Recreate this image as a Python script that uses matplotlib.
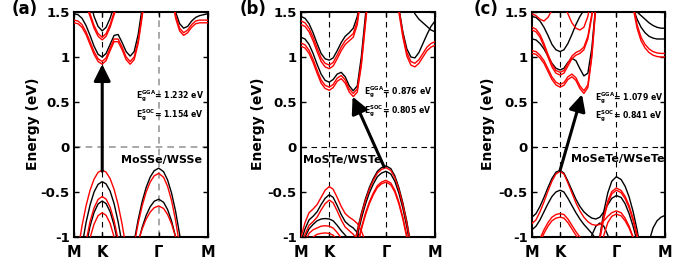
import matplotlib
matplotlib.use("Agg")
import matplotlib.pyplot as plt

plt.rcParams['font.family'] = ['DejaVu Sans']
plt.rcParams['font.weight'] = 'bold'

T = 2.5    # above the frame
B = -2.0   # below the frame

# ---------------- data ----------------
k_path = [0.000, 0.030, 0.060, 0.090, 0.120, 0.150, 0.180, 0.211, 0.240, 0.270,
          0.300, 0.330, 0.360, 0.390, 0.420, 0.450, 0.480, 0.510, 0.540, 0.570,
          0.600, 0.634, 0.670, 0.700, 0.730, 0.760, 0.790, 0.820, 0.850, 0.880,
          0.910, 0.940, 0.970, 1.000]
k_labels = ['M', 'K', 'Γ', 'M']
k_label_pos = [0.0, 0.211, 0.634, 1.0]
y_ticks = [-1, -0.5, 0, 0.5, 1, 1.5]
y_ticklabels = ['-1', '-0.5', '0', '0.5', '1', '1.5']
panel_letters = ['(a)', '(b)', '(c)']
materials = ['MoSSe/WSSe', 'MoSTe/WSTe', 'MoSeTe/WSeTe']
gap_gga = ['1.232', '0.876', '1.079']
gap_soc = ['1.154', '0.805', '0.841']
arrow_a = [0.211, -0.27, 0.211, 0.92]
arrow_b = [0.62, -0.22, 0.385, 0.56]
arrow_c = [0.211, -0.26, 0.376, 0.585]

# ---- panel (a): MoSSe/WSSe  (black = GGA, red = SOC) ----
a_gga = [
    [1.48, 1.47, 1.43, 1.35, 1.24, 1.12, 1.03, 1.00, 1.04, 1.14, 1.24, 1.25, 1.16, 1.06, 1.01, 1.06, 1.25, 1.55, 1.9, T, T, T, T, T, T, T, T, T, T, T, T, T, T, T],
    [T, T, T, 2.0, 1.62, 1.45, 1.34, 1.29, 1.33, 1.43, 1.57, 1.75, T, T, T, T, T, T, T, T, T, T, T, T, T, T, T, T, T, T, T, T, T, T],
    [T, T, T, T, T, T, T, T, T, T, T, T, T, T, T, T, T, T, T, T, T, T, T, T, 1.75, 1.50, 1.37, 1.32, 1.34, 1.40, 1.44, 1.46, 1.47, 1.48],
    [-1.78, -1.41, -1.10, -0.84, -0.645, -0.50, -0.415, -0.385, -0.41, -0.49, -0.63, -0.83, -1.08, -1.39, B, B, B, B, B, B, B, B, B, B, B, B, B, B, B, B, B, B, B, B],
    [B, -1.71, -1.38, -1.10, -0.88, -0.727, -0.633, -0.60, -0.629, -0.718, -0.869, -1.08, -1.35, B, B, B, B, B, B, B, B, B, B, B, B, B, B, B, B, B, B, B, B, B],
    [B, B, B, B, B, B, B, B, B, B, B, B, B, B, -1.34, -1.05, -0.807, -0.606, -0.448, -0.334, -0.263, -0.235, -0.274, -0.367, -0.514, -0.716, -0.972, -1.28, -1.63, B, B, B, B, B],
    [B, B, B, B, B, B, B, B, B, B, B, B, B, B, -1.51, -1.27, -1.06, -0.892, -0.759, -0.663, -0.603, -0.58, -0.614, -0.695, -0.823, -1.0, -1.22, -1.5, B, B, B, B, B, B],
]
a_soc = [
    [1.38, 1.37, 1.33, 1.25, 1.14, 1.03, 0.95, 0.92, 0.96, 1.07, 1.17, 1.17, 1.08, 0.97, 0.92, 0.97, 1.15, 1.45, 1.8, T, T, T, T, T, T, T, T, T, T, T, T, T, T, T],
    [1.41, 1.40, 1.36, 1.28, 1.17, 1.06, 0.98, 0.95, 0.99, 1.10, 1.20, 1.20, 1.11, 1.00, 0.95, 1.00, 1.18, 1.48, 1.83, T, T, T, T, T, T, T, T, T, T, T, T, T, T, T],
    [T, T, 2.0, 1.58, 1.45, 1.32, 1.23, 1.19, 1.23, 1.33, 1.47, 1.62, 1.9, T, T, T, T, T, T, T, T, T, T, T, T, T, T, T, T, T, T, T, T, T],
    [T, T, 2.0, 1.61, 1.48, 1.35, 1.26, 1.22, 1.26, 1.36, 1.50, 1.65, 1.95, T, T, T, T, T, T, T, T, T, T, T, T, T, T, T, T, T, T, T, T, T],
    [T, T, T, T, T, T, T, T, T, T, T, T, T, T, T, T, T, T, T, T, T, T, T, T, 1.70, 1.43, 1.29, 1.24, 1.27, 1.33, 1.37, 1.38, 1.38, 1.38],
    [T, T, T, T, T, T, T, T, T, T, T, T, T, T, T, T, T, T, T, T, T, T, T, T, 1.73, 1.46, 1.32, 1.27, 1.30, 1.36, 1.40, 1.41, 1.41, 1.41],
    [-1.47, -1.146, -0.876, -0.654, -0.481, -0.357, -0.282, -0.256, -0.279, -0.351, -0.471, -0.641, -0.859, -1.127, -1.4, B, B, B, B, B, B, B, B, B, B, B, B, B, B, B, B, B, B, B],
    [B, -1.66, -1.33, -1.05, -0.83, -0.677, -0.583, -0.55, -0.579, -0.668, -0.819, -1.03, -1.30, B, B, B, B, B, B, B, B, B, B, B, B, B, B, B, B, B, B, B, B, B],
    [B, B, -1.51, -1.23, -1.01, -0.857, -0.763, -0.73, -0.759, -0.848, -1.0, -1.21, B, B, B, B, B, B, B, B, B, B, B, B, B, B, B, B, B, B, B, B, B, B],
    [B, B, B, B, B, B, B, B, B, B, B, B, B, B, -1.37, -1.085, -0.848, -0.653, -0.50, -0.389, -0.32, -0.293, -0.336, -0.437, -0.597, -0.817, -1.096, -1.43, B, B, B, B, B, B],
    [B, B, B, B, B, B, B, B, B, B, B, B, B, B, -1.41, -1.22, -1.05, -0.91, -0.80, -0.723, -0.674, -0.655, -0.683, -0.75, -0.855, -1.0, -1.18, -1.4, B, B, B, B, B, B],
]

# ---- panel (b): MoSTe/WSTe ----
b_gga = [
    [1.22, 1.20, 1.14, 1.04, 0.92, 0.81, 0.74, 0.72, 0.75, 0.81, 0.83, 0.78, 0.68, 0.625, 0.68, 1.00, 1.45, 1.9, T, T, T, T, T, T, T, T, T, T, T, T, T, T, T, T],
    [1.45, 1.43, 1.37, 1.27, 1.15, 1.04, 0.98, 0.965, 0.99, 1.07, 1.16, 1.23, 1.27, 1.32, 1.45, 1.75, 2.1, T, T, T, T, T, T, T, T, T, T, T, T, T, T, T, T, T],
    [T, T, T, T, T, T, T, T, T, T, T, T, T, T, T, T, T, T, T, T, T, T, T, 1.9, 1.55, 1.28, 1.09, 1.00, 0.99, 1.05, 1.15, 1.25, 1.34, 1.40],
    [T, T, T, T, T, T, T, T, T, T, T, T, T, T, T, T, T, T, T, T, T, T, T, T, T, 2.0, 1.75, 1.58, 1.48, 1.42, 1.38, 1.34, 1.30, 1.28],
    [B, B, B, B, B, B, B, B, B, B, B, B, -1.39, -1.14, -0.93, -0.74, -0.58, -0.45, -0.35, -0.27, -0.23, -0.21, -0.24, -0.32, -0.45, -0.62, -0.83, -1.09, -1.39, -1.7, B, B, B, B],
    [B, B, B, B, B, B, B, B, B, B, B, B, -1.45, -1.20, -0.99, -0.80, -0.64, -0.51, -0.41, -0.33, -0.29, -0.27, -0.30, -0.38, -0.51, -0.68, -0.89, -1.15, -1.45, -1.76, B, B, B, B],
    [-1.05, -0.91, -0.81, -0.77, -0.72, -0.64, -0.57, -0.53, -0.56, -0.65, -0.75, -0.83, -0.87, -0.90, -0.95, -1.03, -1.15, -1.35, B, B, B, B, B, B, B, B, B, B, B, B, B, B, B, B],
    [-1.15, -1.0, -0.91, -0.86, -0.82, -0.80, -0.795, -0.80, -0.82, -0.87, -0.93, -0.98, -1.03, -1.1, -1.3, B, B, B, B, B, B, B, B, B, B, B, B, B, B, B, B, B, B, B],
]
b_soc = [
    [1.12, 1.10, 1.04, 0.94, 0.82, 0.71, 0.65, 0.63, 0.66, 0.73, 0.76, 0.71, 0.61, 0.56, 0.61, 0.90, 1.35, 1.8, T, T, T, T, T, T, T, T, T, T, T, T, T, T, T, T],
    [1.155, 1.135, 1.075, 0.975, 0.855, 0.745, 0.685, 0.665, 0.695, 0.765, 0.795, 0.745, 0.645, 0.595, 0.645, 0.935, 1.385, 1.835, T, T, T, T, T, T, T, T, T, T, T, T, T, T, T, T],
    [1.36, 1.34, 1.28, 1.18, 1.06, 0.95, 0.89, 0.87, 0.90, 0.98, 1.07, 1.14, 1.18, 1.22, 1.36, 1.68, 2.05, T, T, T, T, T, T, T, T, T, T, T, T, T, T, T, T, T],
    [1.40, 1.38, 1.32, 1.22, 1.10, 0.99, 0.93, 0.91, 0.94, 1.02, 1.11, 1.18, 1.22, 1.26, 1.40, 1.72, 2.1, T, T, T, T, T, T, T, T, T, T, T, T, T, T, T, T, T],
    [T, T, T, T, T, T, T, T, T, T, T, T, T, T, T, T, T, T, T, T, T, T, T, 1.85, 1.50, 1.22, 1.01, 0.91, 0.89, 0.93, 1.00, 1.07, 1.11, 1.13],
    [T, T, T, T, T, T, T, T, T, T, T, T, T, T, T, T, T, T, T, T, T, T, T, 1.89, 1.54, 1.26, 1.05, 0.95, 0.93, 0.97, 1.04, 1.11, 1.15, 1.17],
    [B, B, B, B, B, B, B, B, B, B, B, B, -1.41, -1.16, -0.95, -0.76, -0.60, -0.47, -0.37, -0.29, -0.25, -0.23, -0.26, -0.34, -0.47, -0.64, -0.85, -1.11, -1.41, -1.72, B, B, B, B],
    [B, B, B, B, B, B, B, B, B, B, B, B, -1.55, -1.30, -1.09, -0.90, -0.74, -0.61, -0.51, -0.43, -0.39, -0.37, -0.40, -0.48, -0.61, -0.78, -0.99, -1.25, -1.55, -1.86, B, B, B, B],
    [B, B, B, B, B, B, B, B, B, B, B, B, -1.57, -1.32, -1.11, -0.92, -0.76, -0.63, -0.53, -0.45, -0.41, -0.39, -0.42, -0.50, -0.63, -0.80, -1.01, -1.27, -1.57, -1.88, B, B, B, B],
    [-1.0, -0.84, -0.73, -0.69, -0.64, -0.56, -0.48, -0.44, -0.47, -0.56, -0.66, -0.74, -0.78, -0.81, -0.85, -0.93, -1.05, -1.2, B, B, B, B, B, B, B, B, B, B, B, B, B, B, B, B],
    [-1.12, -0.97, -0.87, -0.83, -0.78, -0.70, -0.63, -0.59, -0.62, -0.71, -0.81, -0.89, -0.93, -0.97, -1.02, -1.1, -1.3, B, B, B, B, B, B, B, B, B, B, B, B, B, B, B, B, B],
    [-1.2, -1.05, -0.96, -0.92, -0.90, -0.88, -0.875, -0.88, -0.90, -0.95, -1.01, -1.06, -1.12, -1.3, B, B, B, B, B, B, B, B, B, B, B, B, B, B, B, B, B, B, B, B],
    [B, -1.2, -1.05, -1.0, -0.97, -0.96, -0.955, -0.96, -0.98, -1.03, -1.1, B, B, B, B, B, B, B, B, B, B, B, B, B, B, B, B, B, B, B, B, B, B, B],
]

# ---- panel (c): MoSeTe/WSeTe ----
c_gga = [
    [1.20, 1.19, 1.15, 1.09, 1.01, 0.93, 0.875, 0.855, 0.875, 0.94, 0.985, 0.96, 0.87, 0.79, 0.82, 1.10, 1.60, 2.1, T, T, T, T, T, T, T, T, T, T, T, T, T, T, T, T],
    [1.45, 1.44, 1.40, 1.33, 1.24, 1.14, 1.08, 1.06, 1.08, 1.15, 1.25, 1.36, 1.45, 1.52, 1.65, 1.9, T, T, T, T, T, T, T, T, T, T, T, T, T, T, T, T, T, T],
    [T, T, T, T, T, T, T, T, T, T, T, T, T, T, T, T, T, T, T, T, T, T, T, 2.0, 1.75, 1.55, 1.42, 1.33, 1.27, 1.23, 1.21, 1.20, 1.20, 1.20],
    [T, T, T, T, T, T, T, T, T, T, T, T, T, T, T, T, T, T, T, T, T, T, T, T, 1.9, 1.62, 1.50, 1.46, 1.42, 1.38, 1.35, 1.33, 1.32, 1.32],
    [-0.78, -0.74, -0.66, -0.56, -0.45, -0.35, -0.28, -0.26, -0.29, -0.38, -0.48, -0.58, -0.66, -0.72, -0.76, -0.79, -0.80, -0.78, -0.72, -0.64, -0.57, -0.54, -0.56, -0.63, -0.74, -0.88, -1.05, -1.25, B, B, B, B, B, B],
    [-0.92, -0.88, -0.81, -0.72, -0.63, -0.55, -0.50, -0.48, -0.50, -0.57, -0.65, -0.73, -0.80, -0.86, -0.91, -0.96, -1.02, -1.1, B, B, B, B, B, B, B, B, B, B, B, B, B, B, B, B],
    [B, B, B, B, B, B, B, B, B, B, B, B, B, B, B, -1.8, -1.36, -1.0, -0.715, -0.509, -0.38, -0.33, -0.361, -0.436, -0.554, -0.716, -0.921, -1.17, -1.46, B, B, B, B, B],
    [B, B, B, B, B, B, B, B, B, B, B, B, B, -1.4, -1.15, -0.98, -0.88, -0.845, -0.88, -0.98, -1.15, -1.4, B, B, B, B, B, B, B, B, B, B, B, B],
    [B, B, B, B, B, B, B, B, B, B, B, B, B, B, B, B, B, B, B, B, B, B, B, B, B, B, B, -1.6, -1.3, -1.05, -0.90, -0.82, -0.78, -0.76],
]
c_soc = [
    [1.04, 1.03, 0.99, 0.93, 0.84, 0.75, 0.69, 0.665, 0.685, 0.75, 0.78, 0.74, 0.65, 0.595, 0.66, 1.0, 1.55, 2.0, T, T, T, T, T, T, T, T, T, T, T, T, T, T, T, T],
    [1.07, 1.06, 1.02, 0.96, 0.87, 0.78, 0.72, 0.695, 0.715, 0.78, 0.81, 0.77, 0.68, 0.625, 0.69, 1.03, 1.58, 2.05, T, T, T, T, T, T, T, T, T, T, T, T, T, T, T, T],
    [1.30, 1.28, 1.22, 1.12, 1.00, 0.89, 0.82, 0.80, 0.82, 0.90, 0.98, 1.02, 1.04, 1.08, 1.20, 1.45, 1.8, T, T, T, T, T, T, T, T, T, T, T, T, T, T, T, T, T],
    [1.33, 1.31, 1.25, 1.15, 1.03, 0.92, 0.85, 0.83, 0.85, 0.93, 1.01, 1.05, 1.07, 1.11, 1.23, 1.48, 1.83, T, T, T, T, T, T, T, T, T, T, T, T, T, T, T, T, T],
    [1.48, 1.46, 1.42, 1.40, 1.44, 1.52, 1.60, 1.62, 1.58, 1.48, 1.38, 1.32, 1.30, 1.33, 1.45, 1.7, 2.0, T, T, T, T, T, T, T, T, T, T, T, T, T, T, T, T, T],
    [T, T, T, T, T, T, T, T, T, T, T, T, T, T, T, T, T, T, T, T, T, T, T, 2.2, 1.85, 1.55, 1.32, 1.18, 1.10, 1.05, 1.02, 1.005, 1.0, 1.0],
    [T, T, T, T, T, T, T, T, T, T, T, T, T, T, T, T, T, T, T, T, T, T, T, 2.25, 1.9, 1.59, 1.36, 1.22, 1.14, 1.09, 1.06, 1.045, 1.04, 1.04],
    [-0.85, -0.81, -0.72, -0.61, -0.49, -0.38, -0.30, -0.27, -0.30, -0.40, -0.51, -0.62, -0.71, -0.78, -0.83, -0.86, -0.87, -0.86, -0.82, -0.77, -0.73, -0.71, -0.73, -0.79, -0.88, -1.0, -1.15, -1.35, B, B, B, B, B, B],
    [-1.2, -1.12, -1.02, -0.92, -0.84, -0.78, -0.75, -0.74, -0.75, -0.80, -0.87, -0.94, -1.0, -1.07, -1.15, B, B, B, B, B, B, B, B, B, B, B, B, B, B, B, B, B, B, B],
    [-1.24, -1.16, -1.06, -0.96, -0.88, -0.82, -0.79, -0.78, -0.79, -0.84, -0.91, -0.98, -1.04, -1.11, -1.2, B, B, B, B, B, B, B, B, B, B, B, B, B, B, B, B, B, B, B],
    [B, B, B, B, B, B, B, B, B, B, B, B, B, B, B, -1.65, -1.29, -1.0, -0.768, -0.60, -0.496, -0.455, -0.483, -0.548, -0.651, -0.793, -0.973, -1.19, -1.45, B, B, B, B, B],
    [B, B, B, B, B, B, B, B, B, B, B, B, B, B, B, -1.68, -1.32, -1.03, -0.793, -0.625, -0.521, -0.48, -0.508, -0.573, -0.676, -0.818, -0.998, -1.21, -1.47, B, B, B, B, B],
    [B, B, B, B, B, B, B, B, B, B, B, B, B, B, B, B, B, -1.3, -0.98, -0.84, -0.77, -0.745, -0.765, -0.82, -0.90, -1.01, -1.15, -1.35, B, B, B, B, B, B],
]

# ---------------- figure ----------------
W, H = 674, 267
fig = plt.figure(figsize=(W / 100, H / 100), dpi=100)

def fx(px):
    return px / W

def fy(py):
    return 1 - py / H

ax_px = [(74, 133.7), (301, 134), (532, 133)]
top_px, bot_px = 12, 237
gga_sets = [a_gga, b_gga, c_gga]
soc_sets = [a_soc, b_soc, c_soc]
arrows = [arrow_a, arrow_b, arrow_c]
text_pos = [(0.465, 0.56, 0.35), (0.468, 0.61, 0.40), (0.475, 0.54, 0.34)]
mat_pos = [(0.957, -0.14, 'right'), (0.015, -0.14, 'left'), (0.29, -0.13, 'left')]
letter_px = [25, 253, 486]
ylabel_px = [33, 258, 488]

for i in range(3):
    left, width = ax_px[i]
    ax = fig.add_axes([fx(left), fy(bot_px), fx(width), (bot_px - top_px) / H])
    ax.set_xlim(0, 1)
    ax.set_ylim(-1, 1.5)
    if i == 0:
        gcol, glw, gdash = '0.6', 1.2, (4, 3)
    else:
        gcol, glw, gdash = 'k', 0.8, (5, 4)
    ax.axhline(0, color=gcol, lw=glw, dashes=gdash, zorder=1)
    ax.axvline(k_label_pos[2], color=gcol, lw=glw, dashes=gdash, zorder=1)
    ax.axvline(k_label_pos[1], color='k', lw=0.8, dashes=(5, 4), zorder=1)
    for band in gga_sets[i]:
        assert len(band) == len(k_path)
        ax.plot(k_path, band, color='black', lw=1.0, zorder=2)
    for band in soc_sets[i]:
        assert len(band) == len(k_path)
        ax.plot(k_path, band, color='red', lw=1.0, zorder=3)
    k0, e0, k1, e1 = arrows[i]
    ax.annotate('', xy=(k1, e1), xytext=(k0, e0),
                arrowprops=dict(arrowstyle='-|>,head_length=0.5,head_width=0.25',
                                color='black', lw=2.2, mutation_scale=20,
                                shrinkA=0, shrinkB=0), zorder=5)
    tk, t1, t2 = text_pos[i]
    ax.text(tk, t1, r'$\mathbf{E_g^{GGA}}$= ' + gap_gga[i] + ' eV', fontsize=5.6,
            fontweight='bold', ha='left', va='center', zorder=6)
    ax.text(tk, t2, r'$\mathbf{E_g^{SOC}}$= ' + gap_soc[i] + ' eV', fontsize=5.6,
            fontweight='bold', ha='left', va='center', zorder=6)
    mk, me, mha = mat_pos[i]
    ax.text(mk, me, materials[i], fontsize=8, fontweight='bold', ha=mha,
            va='center', zorder=6)
    ax.set_yticks(y_ticks)
    ax.set_yticklabels(y_ticklabels)
    ax.set_xticks(k_label_pos)
    ax.set_xticklabels(k_labels)
    ax.tick_params(axis='both', direction='in', top=True, right=True,
                   length=3.5, width=1, labelsize=9.5, pad=3)
    ax.tick_params(axis='x', labelsize=10.5, pad=6)
    for lab in ax.get_xticklabels() + ax.get_yticklabels():
        lab.set_fontweight('bold')
    for sp in ax.spines.values():
        sp.set_linewidth(1.5)
    fig.text(fx(letter_px[i]), fy(9), panel_letters[i], fontsize=12,
             fontweight='bold', ha='center', va='center')
    fig.text(fx(ylabel_px[i]), fy(124), 'Energy (eV)', fontsize=10,
             fontweight='bold', rotation=90, ha='center', va='center')

fig.savefig('out.png', dpi=100)
